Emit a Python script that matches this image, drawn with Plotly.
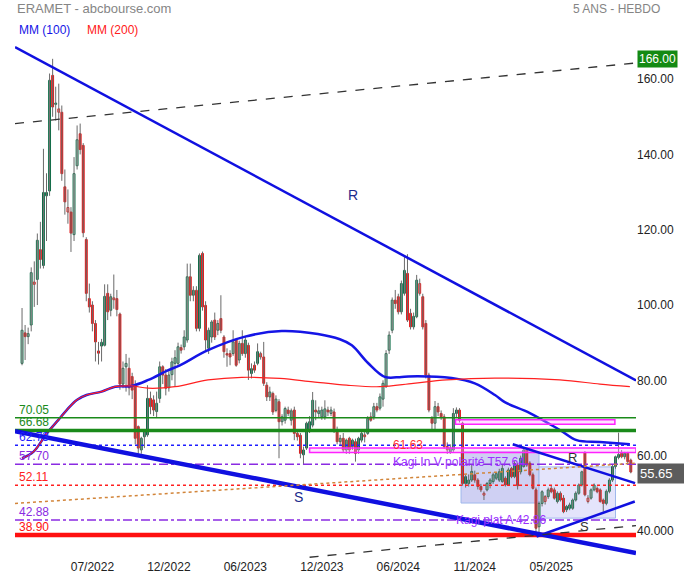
import plotly.graph_objects as go

# ---------------- DATA (weekly candles) ----------------
opens = [84.5, 92.6, 91.6, 94.7, 105.5, 106.8, 114.7, 110.5, 129.0, 130.3,
         161.0, 153.3, 151.2, 151.2, 131.4, 124.7, 124.7, 118.7, 137.0, 145.5,
         142.4, 117.4, 101.7, 100.0, 95.1, 87.8, 89.1, 89.3, 103.1, 98.6,
         101.4, 101.7, 97.6, 79.0, 83.6, 83.2, 81.0, 78.3, 67.7, 61.5,
         65.0, 65.5, 75.2, 74.8, 71.7, 75.2, 83.6, 81.4, 78.0, 81.5,
         84.5, 84.5, 88.7, 88.9, 90.7, 107.5, 102.6, 103.9, 93.8, 113.7,
         99.9, 88.5, 91.5, 96.0, 93.3, 96.4, 91.5, 87.1, 87.1, 87.1,
         90.7, 85.4, 89.8, 87.1, 89.3, 81.8, 84.0, 84.5, 86.2, 86.2,
         78.7, 75.6, 76.5, 72.0, 74.3, 69.0, 69.4, 72.1, 69.4, 72.1,
         65.9, 65.4, 60.2, 62.0, 66.4, 68.1, 72.1, 71.2, 70.3, 70.3,
         72.1, 71.2, 71.6, 66.8, 63.7, 64.6, 61.5, 64.6, 62.4, 63.7,
         61.5, 64.1, 65.0, 65.9, 70.3, 70.3, 73.0, 72.6, 75.0, 78.3,
         88.0, 93.3, 101.3, 102.2, 98.2, 103.1, 108.4, 97.8, 94.2, 96.9,
         103.1, 102.2, 95.1, 81.4, 69.9, 68.6, 73.0, 71.2, 70.3, 62.4,
         61.0, 61.5, 71.2, 72.1, 68.6, 54.4, 52.6, 53.5, 54.9, 53.5,
         51.8, 49.5, 50.9, 52.6, 53.1, 54.0, 53.5, 53.1, 54.0, 52.2,
         56.6, 54.4, 57.5, 55.7, 57.1, 61.5, 58.0, 54.9, 50.9, 41.1,
         47.3, 47.8, 49.1, 51.3, 50.9, 47.8, 50.0, 48.7, 45.6, 46.0,
         46.0, 48.2, 50.0, 52.2, 60.8, 47.8, 48.7, 50.9, 51.3, 50.9,
         48.2, 47.3, 50.5, 53.5, 57.1, 59.5, 60.6, 59.7, 60.6, 58.8]
highs = [99.2, 94.7, 94.0, 110.0, 111.6, 119.0, 122.1, 141.5, 135.0, 161.5,
         165.4, 158.0, 158.8, 153.0, 136.0, 130.7, 126.0, 139.3, 147.7, 148.2,
         143.0, 118.0, 105.7, 101.0, 96.0, 90.2, 91.0, 105.5, 105.5, 103.0,
         108.1, 104.0, 98.0, 85.0, 87.0, 86.0, 82.0, 80.0, 68.0, 65.0,
         67.0, 78.7, 77.0, 76.0, 77.0, 85.0, 84.0, 83.0, 83.0, 86.0,
         88.0, 90.0, 89.5, 93.3, 111.0, 111.0, 105.0, 105.0, 113.7, 114.2,
         101.0, 94.0, 96.0, 98.0, 96.0, 102.6, 92.0, 88.5, 88.0, 93.3,
         91.0, 90.5, 93.3, 91.5, 90.0, 84.5, 85.0, 89.8, 87.6, 90.2,
         79.5, 78.3, 77.0, 76.0, 75.0, 71.0, 73.0, 73.0, 72.5, 73.0,
         67.0, 66.0, 62.4, 69.0, 70.5, 76.9, 74.7, 73.0, 73.0, 74.7,
         73.0, 73.0, 72.5, 67.7, 65.5, 66.0, 64.5, 65.0, 64.5, 64.5,
         65.0, 67.0, 66.5, 70.5, 71.5, 74.0, 74.0, 76.5, 80.0, 88.0,
         93.0, 102.0, 104.0, 103.0, 106.5, 112.8, 113.5, 99.0, 98.0, 108.0,
         107.0, 103.0, 96.0, 82.0, 70.5, 74.5, 74.0, 72.0, 71.0, 63.5,
         63.0, 72.6, 72.8, 72.6, 69.0, 55.0, 55.0, 57.5, 56.0, 54.0,
         52.5, 50.5, 53.0, 54.0, 55.5, 55.6, 56.5, 57.5, 54.5, 56.8,
         57.0, 58.5, 58.0, 60.0, 61.9, 62.0, 58.5, 55.5, 51.5, 47.8,
         50.8, 49.5, 51.5, 52.0, 51.5, 50.5, 50.5, 49.5, 46.9, 47.5,
         48.6, 50.5, 52.6, 56.0, 61.2, 49.5, 51.3, 52.6, 51.8, 51.3,
         48.6, 51.0, 54.0, 57.5, 60.0, 66.1, 61.5, 61.0, 61.0, 59.2]
lows = [84.0, 85.4, 89.6, 93.0, 99.5, 100.0, 109.7, 109.7, 117.0, 129.0,
        150.0, 149.0, 146.4, 133.0, 124.0, 121.6, 114.1, 117.0, 136.0, 140.0,
        118.0, 101.0, 98.0, 93.0, 85.0, 84.2, 85.0, 89.0, 96.0, 97.0,
        99.0, 97.0, 77.5, 77.9, 77.0, 76.0, 75.0, 63.0, 60.5, 60.5,
        62.0, 65.0, 71.0, 70.5, 70.0, 74.0, 79.0, 76.0, 77.0, 80.0,
        78.3, 84.0, 87.1, 88.0, 90.0, 101.0, 101.0, 93.0, 93.0, 98.5,
        88.0, 87.0, 90.0, 90.7, 92.0, 92.5, 86.0, 83.6, 84.0, 86.5,
        83.6, 84.5, 86.5, 86.0, 80.1, 80.5, 82.0, 84.0, 85.5, 78.5,
        74.5, 74.5, 70.8, 71.5, 59.3, 68.0, 68.5, 70.5, 68.0, 64.1,
        64.0, 59.3, 57.5, 61.5, 66.0, 67.5, 69.4, 70.0, 69.5, 69.5,
        70.5, 70.5, 66.0, 63.0, 62.5, 60.8, 60.5, 60.5, 61.5, 58.4,
        60.5, 63.5, 63.5, 65.5, 69.0, 69.5, 71.5, 72.0, 73.0, 78.0,
        87.0, 92.5, 99.0, 97.5, 97.5, 102.5, 95.5, 93.5, 93.5, 96.5,
        102.5, 93.5, 80.5, 71.5, 67.0, 67.0, 70.5, 69.5, 61.8, 60.5,
        60.5, 61.0, 70.0, 68.8, 52.0, 51.5, 51.8, 53.0, 52.8, 51.0,
        50.3, 48.2, 50.5, 51.3, 52.5, 53.5, 53.0, 52.8, 51.8, 52.0,
        54.0, 54.0, 51.0, 55.0, 56.8, 57.0, 54.5, 51.0, 39.0, 38.5,
        46.5, 47.0, 48.5, 50.0, 48.3, 47.3, 47.8, 44.7, 45.0, 45.5,
        45.6, 47.8, 49.6, 51.8, 49.2, 47.3, 48.3, 50.5, 50.0, 47.5,
        45.1, 46.8, 50.0, 53.0, 56.5, 59.0, 59.3, 59.0, 58.0, 55.3]
closes = [93.3, 91.6, 92.4, 108.6, 106.1, 117.2, 112.1, 129.9, 129.9, 159.7,
          152.6, 153.6, 152.1, 134.9, 127.4, 125.9, 119.1, 134.9, 143.9, 141.3,
          119.2, 103.1, 99.5, 95.1, 90.2, 87.2, 90.1, 102.3, 98.2, 102.2,
          101.9, 98.8, 79.0, 83.2, 84.5, 78.0, 77.4, 64.6, 62.0, 64.6,
          66.4, 75.2, 73.0, 72.1, 73.9, 83.6, 81.4, 77.9, 81.4, 84.9,
          86.0, 88.9, 88.0, 91.5, 107.5, 102.6, 103.9, 93.8, 113.2, 99.5,
          90.7, 93.3, 95.5, 91.5, 95.1, 93.3, 87.6, 86.7, 86.2, 90.2,
          84.0, 89.8, 87.1, 90.7, 82.7, 83.1, 82.7, 87.6, 87.1, 79.2,
          75.6, 76.9, 71.6, 75.0, 69.0, 70.3, 72.5, 71.2, 71.9, 65.9,
          65.0, 60.6, 61.5, 68.6, 69.0, 74.7, 71.6, 71.9, 72.1, 72.4,
          71.6, 72.1, 66.8, 63.7, 64.6, 61.5, 64.1, 61.5, 64.1, 60.6,
          64.6, 65.9, 65.5, 69.9, 69.4, 73.0, 72.1, 75.6, 79.2, 87.1,
          92.0, 101.3, 100.4, 98.2, 105.7, 109.2, 96.0, 94.2, 97.0, 106.6,
          105.7, 94.2, 81.4, 72.1, 68.6, 73.0, 71.6, 70.3, 62.4, 61.5,
          62.0, 71.2, 72.1, 69.4, 52.6, 52.6, 53.5, 55.8, 53.5, 51.8,
          50.9, 50.0, 52.6, 53.5, 54.9, 55.2, 55.7, 56.6, 52.2, 56.2,
          54.4, 57.9, 52.0, 59.3, 61.5, 57.5, 54.9, 51.3, 40.7, 47.3,
          50.4, 49.1, 50.9, 50.4, 48.7, 50.0, 48.2, 45.1, 46.5, 46.9,
          48.2, 50.0, 52.2, 55.7, 49.6, 48.7, 50.9, 52.2, 50.4, 47.8,
          47.3, 50.5, 53.5, 57.1, 59.7, 60.3, 59.7, 60.6, 58.4, 55.65]

tick_idx = [23, 48, 73, 98, 123, 148, 173]
tick_lbl = ["07/2022", "12/2022", "06/2023", "12/2023", "06/2024", "11/2024", "05/2025"]
price_ticks = [160, 140, 120, 100, 80, 60, 40]
price_tick_lbl = ["160.00", "140.00", "120.00", "100.00", "80.00", "60.00", "40.000"]

# moving averages (bar index, value)
mm100_idx = [0, 3.7, 8.1, 11.9, 14.6, 17.9, 21.1, 26.0, 30.4, 35.8, 41.3, 47.8, 51.6,
             60.8, 72.9, 84.9, 96.7, 103.9, 107.8, 113.1, 118.6, 124.1, 129.4, 140.4,
             148.0, 154.6, 157.8, 166.0, 175.8, 181.3, 188.9, 198.7]
mm100_val = [59.3, 61.0, 65.9, 69.5, 72.1, 74.8, 76.1, 77.0, 78.3, 78.5, 80.1, 82.7, 84.0,
             88.0, 91.6, 93.1, 92.3, 90.9, 89.3, 84.6, 80.9, 80.9, 81.1, 80.6,
             79.2, 76.1, 74.2, 71.3, 66.8, 64.1, 63.6, 63.0]
mm200_idx = [0, 3.7, 8.1, 11.9, 14.6, 17.9, 21.1, 26.0, 30.4, 35.8, 41.2, 50.0, 60.8,
             71.8, 84.3, 95.1, 106.1, 117.0, 127.9, 138.8, 154.6, 175.8, 188.9, 198.7]
mm200_val = [59.3, 61.0, 65.9, 69.5, 72.1, 74.8, 76.1, 77.0, 78.3, 78.5, 77.9, 78.3, 80.1,
             80.8, 80.5, 79.6, 78.7, 78.3, 79.2, 80.1, 80.6, 80.1, 79.0, 78.3]

# horizontal levels: value, label, colour, width, dash
levels = [
    (70.05, "70.05", "#1a8a1a", 1.5, "solid"),
    (66.68, "66.68", "#1a8a1a", 3.5, "solid"),
    (62.73, "62.73", "#1f1fff", 1.5, "dot"),
    (57.70, "57.70", "#8a2be2", 1.5, "dashdot"),
    (52.11, "52.11", "#ff2020", 1.5, "dot"),
    (42.88, "42.88", "#8a2be2", 1.5, "dashdot"),
    (38.90, "38.90", "#ff1010", 4.5, "solid"),
]

# trend lines: (idx0, val0, idx1, val1, colour, width, dash)
trend_lines = [
    (-2.3, 168.5, 200.7, 80.0, "#1010e0", 2.5, "solid"),     # big resistance
    (-2.3, 66.5, 200.7, 34.1, "#1010e0", 4.5, "solid"),      # big support
    (160.4, 63.0, 200.4, 52.7, "#1010e0", 2.5, "solid"),     # small R
    (168.2, 38.5, 200.3, 47.8, "#1010e0", 2.5, "solid"),     # small S
    (-2.3, 148.2, 200.7, 164.3, "#333333", 1.3, "dash"),     # upper dashed
    (94.0, 33.0, 200.7, 41.4, "#333333", 1.3, "dash"),       # lower dashed
    (-2.3, 47.3, 200.7, 58.0, "#d2853a", 1.5, "dot"),        # orange dotted
]

# zones: (idx0, idx1, v0, v1, fill, line)
zones = [
    (143.5, 169.0, 47.4, 61.0, "#cfd0f3", "#9fb8ec"),
    (169.0, 194.0, 43.4, 57.0, "#e4e4fb", "#9fb8ec"),
]
pink_zones = [
    (141.7, 193.8, 68.3, 69.5),
    (94.0, 200.7, 60.85, 62.0),
]

# ---------------- FIGURE ----------------
n = len(closes)
idx = list(range(n))
FONT = "Liberation Sans, Arial, sans-serif"
GREEN = "#0b6b45"
RED = "#e01b1b"

fig = go.Figure()

# wicks
wx, wy = [], []
for i in idx:
    wx += [i, i, None]
    wy += [lows[i], highs[i], None]
fig.add_trace(go.Scatter(x=wx, y=wy, mode="lines", line=dict(color="#6a6a6a", width=1),
                         hoverinfo="skip", showlegend=False))

# bodies, 4 styles
groups = {"gh": ([], [], []), "rh": ([], [], []), "gf": ([], [], []), "rf": ([], [], [])}
for i in idx:
    o, c = opens[i], closes[i]
    prev = closes[i - 1] if i > 0 else o
    if c >= o:
        key = "gh" if c >= prev else "rh"
    else:
        key = "gf" if c >= prev else "rf"
    lo, hi = min(o, c), max(o, c)
    groups[key][0].append(i)
    groups[key][1].append(lo)
    groups[key][2].append(max(hi - lo, 0.35))

styles = {"gh": ("white", GREEN), "rh": ("white", RED), "gf": (GREEN, GREEN), "rf": (RED, RED)}
for key, (xs, bases, hs) in groups.items():
    fill, edge = styles[key]
    fig.add_trace(go.Bar(x=xs, y=hs, base=bases, width=0.62,
                         marker=dict(color=fill, line=dict(color=edge, width=1)),
                         hoverinfo="skip", showlegend=False))

# moving averages
fig.add_trace(go.Scatter(x=mm100_idx, y=mm100_val, mode="lines", line_shape="spline",
                         line=dict(color="#1515e6", width=2.5), showlegend=False, hoverinfo="skip"))
fig.add_trace(go.Scatter(x=mm200_idx, y=mm200_val, mode="lines", line_shape="spline",
                         line=dict(color="#ff2020", width=1.2), showlegend=False, hoverinfo="skip"))

shapes = []
for (a, b, v0, v1, fill, line) in zones:
    shapes.append(dict(type="rect", xref="x", yref="y", x0=a, x1=b, y0=v0, y1=v1,
                       fillcolor=fill, line=dict(color=line, width=1), layer="below"))
for (a, b, v0, v1) in pink_zones:
    shapes.append(dict(type="rect", xref="x", yref="y", x0=a, x1=b, y0=v0, y1=v1,
                       fillcolor="rgba(255,170,255,0.35)", line=dict(color="#ff22ff", width=1.5),
                       layer="above"))
for (v, lbl, col, w, dash) in levels:
    shapes.append(dict(type="line", xref="paper", yref="y", x0=0, x1=1, y0=v, y1=v,
                       line=dict(color=col, width=w, dash=dash), layer="above"))
for (a, va, b, vb, col, w, dash) in trend_lines:
    shapes.append(dict(type="line", xref="x", yref="y", x0=a, y0=va, x1=b, y1=vb,
                       line=dict(color=col, width=w, dash=dash), layer="above"))

ann = []
for (v, lbl, col, w, dash) in levels:
    ann.append(dict(xref="paper", yref="y", x=0.004, y=v, text=lbl, showarrow=False,
                    xanchor="left", yanchor="bottom", yshift=-1,
                    font=dict(family=FONT, size=12, color=col)))
ann += [
    dict(xref="paper", yref="paper", x=0, y=1.06, text="ERAMET - abcbourse.com", showarrow=False,
         xanchor="left", yanchor="middle", font=dict(family=FONT, size=13, color="#858585")),
    dict(xref="paper", yref="paper", x=1.042, y=1.06, text="5 ANS - HEBDO", showarrow=False,
         xanchor="right", yanchor="middle", font=dict(family=FONT, size=12, color="#858585")),
    dict(xref="paper", yref="paper", x=0.004, y=1.019, text="MM (100)", showarrow=False,
         xanchor="left", yanchor="middle", font=dict(family=FONT, size=12, color="#1515e6")),
    dict(xref="paper", yref="paper", x=0.112, y=1.019, text="MM (200)", showarrow=False,
         xanchor="left", yanchor="middle", font=dict(family=FONT, size=12, color="#ff2020")),
    dict(xref="x", yref="y", x=108.2, y=129.1, text="R", showarrow=False,
         font=dict(family=FONT, size=14, color="#1c2a8c")),
    dict(xref="x", yref="y", x=90.5, y=49.0, text="S", showarrow=False,
         font=dict(family=FONT, size=14, color="#1c2a8c")),
    dict(xref="x", yref="y", x=180.1, y=59.6, text="R", showarrow=False,
         font=dict(family=FONT, size=13, color="#333333")),
    dict(xref="x", yref="y", x=184.0, y=41.1, text="S", showarrow=False,
         font=dict(family=FONT, size=13, color="#333333")),
    dict(xref="x", yref="y", x=126.1, y=62.8, text="61.63", showarrow=False,
         font=dict(family=FONT, size=12, color="#ff3030")),
    dict(xref="x", yref="y", x=120.6, y=58.3, text="Kagi In V polarité T57.64", showarrow=False,
         xanchor="left", font=dict(family=FONT, size=12, color="#9b30ff")),
    dict(xref="x", yref="y", x=141.3, y=42.9, text="Kagi plat A 42.86", showarrow=False,
         xanchor="left", font=dict(family=FONT, size=12, color="#9b30ff")),
    dict(xref="paper", yref="y", x=1.0016, y=165.3, text="166.00", showarrow=False,
         xanchor="left", yanchor="middle", bgcolor="#138a13", borderpad=1,
         font=dict(family=FONT, size=12, color="white")),
    dict(xref="paper", yref="y", x=1.0016, y=55.3, text="55.65", showarrow=False,
         xanchor="left", yanchor="middle", bgcolor="#5c5c5c", borderpad=2, width=43, align="left",
         font=dict(family=FONT, size=13, color="white")),
]

fig.update_layout(
    width=684, height=580,
    margin=dict(l=15, r=48, t=40, b=22, autoexpand=False),
    paper_bgcolor="white", plot_bgcolor="white",
    barmode="overlay", showlegend=False,
    shapes=shapes, annotations=ann,
    font=dict(family=FONT, size=12, color="#222222"),
    xaxis=dict(range=[-2.3, 200.7], tickvals=tick_idx, ticktext=tick_lbl, showgrid=False,
               zeroline=False, showline=False, ticks="", tickfont=dict(size=12, color="#222222"),
               automargin=False),
    yaxis=dict(range=[32.8, 170.4], side="right", tickvals=price_ticks, ticktext=price_tick_lbl,
               showgrid=False, zeroline=False, showline=False, ticks="",
               tickfont=dict(size=12, color="#222222"), automargin=False),
)

fig.write_html("out.html", config={"displayModeBar": False},
               post_script="document.body.style.margin='0';document.body.style.padding='0';")
